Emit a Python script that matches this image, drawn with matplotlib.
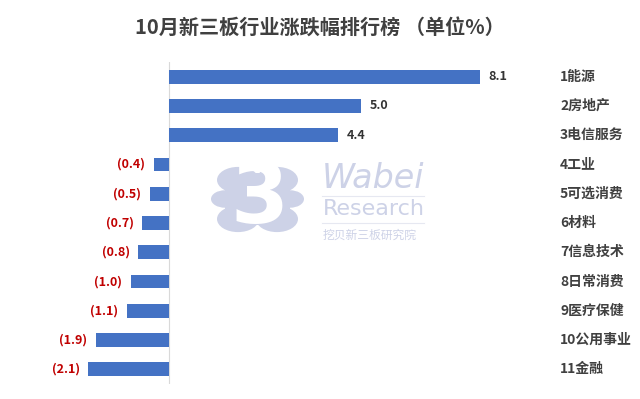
import matplotlib
matplotlib.use("Agg")
import matplotlib.pyplot as plt
from matplotlib.patches import Circle, Rectangle

plt.rcParams['font.family'] = ['Noto Sans CJK SC', 'DejaVu Sans']

categories = ["1能源", "2房地产", "3电信服务", "4工业", "5可选消费", "6材料",
              "7信息技术", "8日常消费", "9医疗保健", "10公用事业", "11金融"]
values = [8.1, 5.0, 4.4, -0.4, -0.5, -0.7, -0.8, -1.0, -1.1, -1.9, -2.1]
title = "10月新三板行业涨跌幅排行榜 （单位%）"

W, H = 640, 399
fig = plt.figure(figsize=(W / 100, H / 100), dpi=100)
fig.patch.set_facecolor("white")

# watermark (background)
wm = "#cdd2e7"
def fc(x, y):
    return (x / W, 1 - y / H)
for cx, cy, r in [(238, 180, 21), (277, 180, 21), (238, 219, 21), (277, 219, 21),
                  (225, 199, 14), (290, 199, 14)]:
    fig.patches.append(Circle(fc(cx, cy), r / W, transform=fig.transFigure,
                              facecolor=wm, edgecolor="none", zorder=0))
fig.patches.append(Rectangle(fc(225, 225), 65 / W, 52 / H, transform=fig.transFigure,
                             facecolor=wm, edgecolor="none", zorder=0))
fig.text(259 / W, 1 - 200 / H, "3", fontsize=60, color="white", fontweight="bold",
         family="DejaVu Sans", ha="center", va="center", zorder=1)
fig.text(322 / W, 1 - 178 / H, "Wabei", fontsize=24, color=wm, style="italic",
         family="DejaVu Sans", ha="left", va="center", zorder=1)
fig.text(323 / W, 1 - 209 / H, "Research", fontsize=16, color=wm,
         family="DejaVu Sans", ha="left", va="center", zorder=1)
fig.text(323 / W, 1 - 235 / H, "挖贝新三板研究院", fontsize=8.5, color=wm,
         ha="left", va="center", zorder=1)
for yy in (196, 223):
    fig.add_artist(plt.Line2D([322 / W, 424 / W], [1 - yy / H] * 2, color="#e6e8f1",
                              lw=0.8, transform=fig.transFigure, zorder=0))

zero_px, scale = 169, 38.4
ax = fig.add_axes([0, 1 - 384 / H, 1, (384 - 62) / H])
ax.patch.set_alpha(0)
ax.set_xlim(-zero_px / scale, (W - zero_px) / scale)
ax.set_ylim(len(values) - 0.5, -0.5)
ys = list(range(len(values)))
ax.barh(ys, values, height=0.47, color="#4472C4", zorder=3)
ax.axvline(0, color="#d9d9d9", lw=0.8, zorder=2)
for s in ax.spines.values():
    s.set_visible(False)
ax.set_xticks([])
ax.set_yticks([])

for y, v, c in zip(ys, values, categories):
    if v >= 0:
        ax.text(v + 0.22, y, f"{v:.1f}", ha="left", va="center", fontsize=9,
                fontweight="bold", color="#333333")
    else:
        ax.text(v - 0.22, y, f"({abs(v):.1f})", ha="right", va="center", fontsize=9,
                fontweight="bold", color="#C00000")
    ax.text((560 - zero_px) / scale, y, c, ha="left", va="center", fontsize=10,
            fontweight="bold", color="#404040")

fig.text(0.5, 1 - 27 / H, title, ha="center", va="center", fontsize=14.5,
         fontweight="bold", color="#404040")

fig.savefig("out.png", dpi=100)
